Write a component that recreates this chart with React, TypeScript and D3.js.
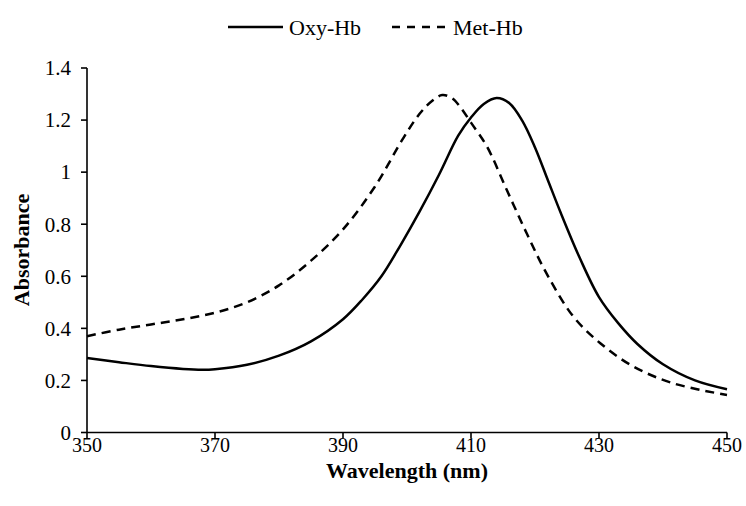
import React from "react";
import * as d3 from "d3";

const oxyWavelength = [350, 355, 360, 365, 368, 370, 375, 380, 385, 390, 393, 396, 399, 402, 405, 408, 410, 412, 414, 416, 418, 420, 422, 424, 427, 430, 433, 436, 440, 445, 450];
const oxyAbsorbance = [0.286, 0.27, 0.255, 0.244, 0.241, 0.243, 0.26, 0.295, 0.35, 0.435, 0.51, 0.6, 0.72, 0.85, 0.99, 1.14, 1.21, 1.262, 1.285, 1.265, 1.198, 1.095, 0.97, 0.845, 0.67, 0.52, 0.42, 0.34, 0.262, 0.2, 0.166];

const metWavelength = [350, 355, 360, 365, 370, 375, 380, 385, 390, 395, 399.4, 402, 404, 405.5, 407, 408.3, 410, 412.5, 415.6, 418.7, 421.8, 426, 430.2, 435.4, 441.6, 450];
const metAbsorbance = [0.37, 0.395, 0.415, 0.435, 0.46, 0.5, 0.565, 0.66, 0.78, 0.945, 1.13, 1.225, 1.275, 1.296, 1.285, 1.251, 1.19, 1.098, 0.931, 0.765, 0.611, 0.445, 0.343, 0.253, 0.189, 0.144];

const xTicks = [350, 370, 390, 410, 430, 450];
const yTicks = [0, 0.2, 0.4, 0.6, 0.8, 1, 1.2, 1.4];

const seriesNames = ["Oxy-Hb", "Met-Hb"];

export default function App() {
  const W = 746, H = 506;
  const x = d3.scaleLinear().domain([350, 450]).range([87, 727]);
  const y = d3.scaleLinear().domain([0, 1.4]).range([432.5, 68]);
  const line = d3.line<[number, number]>().x(d => x(d[0])).y(d => y(d[1])).curve(d3.curveCatmullRom.alpha(0.5));
  const oxy = oxyWavelength.map((w, i) => [w, oxyAbsorbance[i]] as [number, number]);
  const met = metWavelength.map((w, i) => [w, metAbsorbance[i]] as [number, number]);
  const font = "'Liberation Serif', 'Times New Roman', serif";
  return (
    <svg width={W} height={H} style={{ position: "absolute", left: 0, top: 0, background: "#fff" }} fontFamily={font}>
      <rect width={W} height={H} fill="#fff" />
      <line x1={x(350)} x2={x(350)} y1={y(1.4)} y2={y(0)} stroke="#000" strokeWidth={1.6} />
      <line x1={x(350)} x2={x(450)} y1={y(0)} y2={y(0)} stroke="#000" strokeWidth={1.6} />
      {yTicks.map(t => (
        <g key={"y" + t}>
          <line x1={x(350) - 6} x2={x(350)} y1={y(t)} y2={y(t)} stroke="#000" strokeWidth={1.6} />
          <text x={71} y={y(t)} dy="0.35em" textAnchor="end" fontSize={21}>{String(t)}</text>
        </g>
      ))}
      {xTicks.map(t => (
        <g key={"x" + t}>
          <line x1={x(t)} x2={x(t)} y1={y(0)} y2={y(0) + 6} stroke="#000" strokeWidth={1.6} />
          <text x={x(t)} y={452} textAnchor="middle" fontSize={20}>{t}</text>
        </g>
      ))}
      <text x={407} y={478} textAnchor="middle" fontSize={22} fontWeight="bold">Wavelength (nm)</text>
      <text transform={`translate(29,250) rotate(-90)`} textAnchor="middle" fontSize={22} fontWeight="bold">Absorbance</text>
      <path d={line(oxy) || ""} fill="none" stroke="#000" strokeWidth={2.5} />
      <path d={line(met) || ""} fill="none" stroke="#000" strokeWidth={2.5} strokeDasharray="9,6" />
      <line x1={228} x2={283} y1={27} y2={27} stroke="#000" strokeWidth={2.5} />
      <text x={289} y={27} dy="0.35em" fontSize={22}>{seriesNames[0]}</text>
      <line x1={392} x2={448} y1={27} y2={27} stroke="#000" strokeWidth={2.5} strokeDasharray="8,7" />
      <text x={453} y={27} dy="0.35em" fontSize={22}>{seriesNames[1]}</text>
    </svg>
  );
}
